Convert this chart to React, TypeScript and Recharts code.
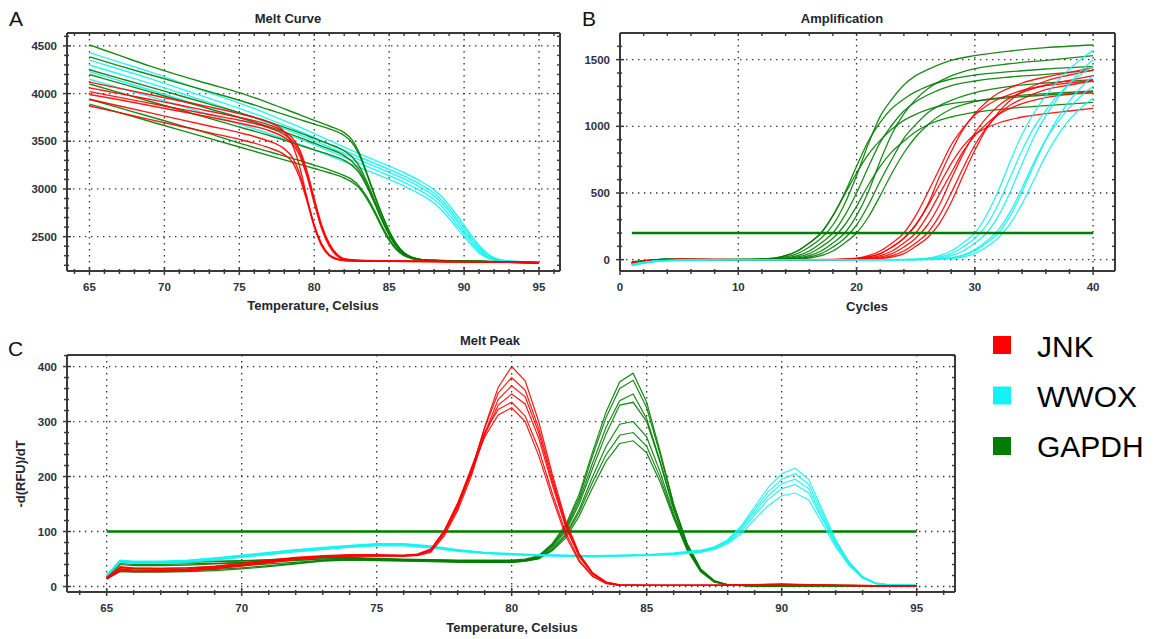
import React from "react";
import { LineChart, Line, XAxis, YAxis, CartesianGrid } from "recharts";

// colours
const RED = "#ff0000";
const CYAN = "#14f2f2";
const GREEN = "#007d00";
const FRAME = "#3a3a3a";
const FONT = "'Liberation Sans', Arial, sans-serif";

// legend
const genes = ["JNK", "WWOX", "GAPDH"];
const geneColors = [RED, CYAN, GREEN];

// ---------- A: Melt Curve (RFU vs temperature) ----------
const meltTempsJNK = [65, 67, 69, 71, 73, 75, 76, 77, 78, 78.5, 79, 79.5, 80, 80.5, 81, 81.5, 82, 83, 85, 88, 91, 95];
const meltJNK1 = [4120, 4055, 3990, 3925, 3860, 3790, 3750, 3700, 3600, 3480, 3250, 2920, 2620, 2420, 2310, 2270, 2255, 2248, 2244, 2240, 2236, 2228];
const meltJNK2 = [4060, 4000, 3940, 3880, 3815, 3750, 3715, 3670, 3600, 3540, 3420, 3200, 2900, 2620, 2430, 2320, 2270, 2252, 2246, 2242, 2238, 2230];
const meltJNK3 = [4020, 3960, 3900, 3840, 3780, 3720, 3685, 3640, 3570, 3510, 3390, 3170, 2880, 2600, 2420, 2310, 2265, 2250, 2245, 2241, 2237, 2229];
const meltJNK4 = [3990, 3935, 3875, 3815, 3755, 3690, 3655, 3610, 3540, 3480, 3360, 3140, 2850, 2580, 2400, 2300, 2260, 2248, 2243, 2240, 2236, 2228];
const meltJNK5 = [3940, 3870, 3800, 3730, 3660, 3590, 3550, 3500, 3420, 3340, 3170, 2900, 2620, 2420, 2310, 2265, 2250, 2245, 2242, 2238, 2234, 2226];
const meltJNK6 = [3870, 3800, 3730, 3660, 3590, 3520, 3480, 3430, 3360, 3290, 3130, 2880, 2600, 2400, 2300, 2262, 2250, 2244, 2241, 2238, 2234, 2226];

const meltTempsGAPDH = [65, 67, 69, 71, 73, 75, 77, 79, 80, 81, 82, 82.5, 83, 83.5, 84, 84.5, 85, 85.5, 86, 86.5, 87, 88, 91, 95];
const meltGAPDH1 = [4510, 4400, 4290, 4190, 4100, 4010, 3900, 3780, 3720, 3660, 3590, 3520, 3380, 3170, 2950, 2740, 2560, 2420, 2330, 2285, 2265, 2252, 2243, 2228];
const meltGAPDH2 = [4385, 4290, 4200, 4110, 4020, 3930, 3830, 3730, 3680, 3630, 3560, 3490, 3360, 3160, 2940, 2740, 2560, 2420, 2330, 2285, 2265, 2252, 2242, 2227];
const meltGAPDH3 = [4250, 4160, 4070, 3980, 3890, 3800, 3700, 3590, 3530, 3470, 3400, 3340, 3240, 3080, 2890, 2700, 2530, 2400, 2320, 2280, 2262, 2250, 2241, 2226];
const meltGAPDH4 = [4200, 4110, 4020, 3930, 3840, 3750, 3650, 3540, 3480, 3420, 3350, 3290, 3200, 3050, 2870, 2680, 2520, 2395, 2318, 2280, 2262, 2250, 2240, 2225];
const meltGAPDH5 = [3940, 3850, 3760, 3670, 3580, 3480, 3390, 3300, 3250, 3200, 3140, 3100, 3030, 2920, 2780, 2620, 2480, 2370, 2305, 2272, 2258, 2248, 2240, 2225];
const meltGAPDH6 = [3890, 3800, 3710, 3620, 3530, 3440, 3350, 3260, 3215, 3170, 3115, 3075, 3010, 2900, 2760, 2600, 2460, 2360, 2300, 2270, 2256, 2247, 2239, 2224];
const meltGAPDH7 = [4100, 4010, 3920, 3830, 3740, 3650, 3560, 3460, 3410, 3360, 3300, 3250, 3170, 3030, 2860, 2680, 2520, 2395, 2318, 2280, 2262, 2250, 2240, 2225];

const meltTempsWWOX = [65, 67, 69, 71, 73, 75, 77, 79, 81, 83, 85, 86, 87, 88, 88.5, 89, 89.5, 90, 90.5, 91, 91.5, 92, 92.5, 93, 94, 95];
const meltWWOX1 = [4430, 4330, 4230, 4120, 4010, 3900, 3780, 3650, 3510, 3370, 3240, 3170, 3090, 2990, 2920, 2830, 2730, 2620, 2510, 2410, 2330, 2280, 2255, 2245, 2238, 2232];
const meltWWOX2 = [4350, 4255, 4160, 4055, 3950, 3845, 3730, 3605, 3470, 3335, 3205, 3135, 3055, 2955, 2885, 2795, 2695, 2590, 2485, 2390, 2315, 2272, 2252, 2243, 2237, 2231];
const meltWWOX3 = [4300, 4205, 4110, 4010, 3905, 3800, 3690, 3570, 3440, 3305, 3175, 3105, 3025, 2925, 2855, 2765, 2665, 2560, 2460, 2370, 2300, 2265, 2250, 2242, 2236, 2230];
const meltWWOX4 = [4230, 4135, 4040, 3945, 3845, 3745, 3640, 3525, 3400, 3270, 3140, 3070, 2990, 2890, 2820, 2730, 2630, 2530, 2435, 2350, 2290, 2260, 2248, 2240, 2235, 2229];
const meltWWOX5 = [4150, 4060, 3970, 3875, 3780, 3680, 3580, 3470, 3350, 3225, 3100, 3030, 2950, 2850, 2780, 2690, 2595, 2500, 2410, 2330, 2280, 2255, 2245, 2238, 2234, 2228];

const meltXTicks = [65, 70, 75, 80, 85, 90, 95];
const meltYTicks = [2500, 3000, 3500, 4000, 4500];

// ---------- B: Amplification (RFU vs cycle) ----------
const cyclesGAPDH = [1, 4, 8, 11, 13, 14, 15, 16, 17, 18, 19, 20, 21, 22, 23, 24, 25, 26, 28, 30, 33, 36, 40];
const ampGAPDH1 = [-25, 2, 0, 2, 12, 30, 65, 125, 200, 330, 490, 650, 790, 895, 980, 1045, 1090, 1125, 1170, 1190, 1215, 1235, 1250];
const ampGAPDH2 = [-20, 3, 1, 2, 8, 20, 45, 95, 160, 260, 420, 630, 870, 1075, 1205, 1310, 1380, 1425, 1495, 1530, 1565, 1590, 1610];
const ampGAPDH3 = [-30, 0, 0, 1, 5, 12, 30, 65, 125, 200, 330, 500, 695, 880, 1010, 1115, 1185, 1235, 1305, 1340, 1370, 1390, 1420];
const ampGAPDH4 = [-15, 4, 2, 2, 3, 8, 20, 45, 95, 160, 260, 400, 560, 700, 810, 890, 960, 1010, 1070, 1105, 1135, 1155, 1180];
const ampGAPDH5 = [-25, 2, 0, 0, 2, 5, 12, 30, 65, 125, 200, 330, 510, 740, 945, 1093, 1202, 1280, 1378, 1432, 1470, 1495, 1530];
const ampGAPDH6 = [-35, 0, 0, 0, 1, 3, 8, 20, 45, 95, 160, 260, 410, 590, 755, 910, 1013, 1100, 1195, 1253, 1300, 1325, 1350];
const ampGAPDH7 = [-20, 3, 1, 2, 12, 30, 65, 125, 200, 330, 500, 700, 890, 1030, 1135, 1205, 1260, 1300, 1355, 1385, 1410, 1430, 1450];
const ampGAPDH8 = [-28, 1, 0, 0, 1, 2, 5, 12, 30, 65, 125, 200, 320, 480, 650, 800, 920, 1010, 1130, 1185, 1225, 1245, 1265];

const cyclesJNK = [1, 5, 10, 15, 18, 20, 21, 22, 23, 24, 25, 26, 27, 28, 29, 30, 31, 32, 33, 34, 36, 38, 40];
const ampJNK1 = [-30, 2, 0, 0, 2, 12, 30, 65, 125, 200, 330, 500, 680, 860, 985, 1085, 1155, 1205, 1240, 1270, 1305, 1325, 1345];
const ampJNK2 = [-20, 3, 1, 0, 1, 8, 20, 45, 95, 160, 260, 410, 620, 810, 975, 1095, 1185, 1250, 1290, 1325, 1370, 1405, 1440];
const ampJNK3 = [-25, 1, 0, 0, 0, 5, 12, 30, 65, 125, 200, 330, 490, 650, 810, 930, 1020, 1090, 1135, 1170, 1215, 1240, 1260];
const ampJNK4 = [-35, 0, 0, 0, 0, 3, 8, 20, 45, 95, 160, 260, 410, 605, 790, 950, 1065, 1155, 1215, 1255, 1310, 1345, 1380];
const ampJNK5 = [-20, 2, 0, 0, 0, 2, 5, 12, 30, 65, 125, 200, 330, 500, 685, 860, 990, 1090, 1160, 1205, 1275, 1310, 1340];
const ampJNK6 = [-30, 1, 0, 0, 1, 8, 20, 45, 95, 160, 260, 400, 560, 720, 850, 940, 990, 1025, 1050, 1070, 1095, 1115, 1135];
const ampJNK7 = [-25, 2, 0, 0, 0, 1, 3, 8, 20, 45, 100, 165, 270, 430, 630, 820, 985, 1105, 1195, 1260, 1340, 1385, 1420];

const cyclesWWOX = [1, 3, 5, 10, 15, 20, 24, 26, 27, 28, 29, 30, 31, 32, 33, 34, 35, 36, 37, 38, 39, 40];
const ampWWOX1 = [-45, -15, -5, 0, 0, 0, 2, 12, 30, 65, 125, 200, 335, 520, 740, 940, 1100, 1230, 1340, 1430, 1505, 1570];
const ampWWOX2 = [-40, -12, -4, 0, 0, 0, 1, 8, 20, 45, 95, 160, 260, 420, 620, 820, 990, 1120, 1230, 1320, 1390, 1450];
const ampWWOX3 = [-40, -12, -5, 0, 0, 0, 0, 5, 12, 30, 65, 125, 200, 330, 510, 720, 920, 1080, 1210, 1320, 1420, 1500];
const ampWWOX4 = [-35, -10, -3, 0, 0, 0, 0, 2, 6, 15, 35, 75, 140, 225, 360, 540, 730, 900, 1030, 1140, 1230, 1300];
const ampWWOX5 = [-35, -10, -3, 0, 0, 0, 0, 1, 3, 8, 20, 45, 95, 165, 270, 420, 600, 780, 930, 1050, 1140, 1210];
const ampWWOX6 = [-38, -11, -4, 0, 0, 0, 0, 2, 5, 12, 30, 65, 125, 200, 330, 510, 710, 900, 1060, 1190, 1295, 1380];

const ampThresholdCycles = [1, 40];
const ampThreshold = [200, 200];
const ampXTicks = [0, 10, 20, 30, 40];
const ampYTicks = [0, 500, 1000, 1500];

// ---------- C: Melt Peak (-dRFU/dT vs temperature) ----------
const peakTempsJNK = [65, 65.5, 66, 67, 68, 69, 70, 71, 72, 73, 74, 75, 76, 76.5, 77, 77.5, 78, 78.5, 79, 79.5, 80, 80.5, 81, 81.5, 82, 82.5, 83, 83.5, 84, 85, 88, 90, 92, 95];
const peakJNK1 = [15, 32, 30, 29, 31, 35, 40, 46, 51, 55, 56, 56, 56, 57, 64, 95, 142, 208, 290, 362, 400, 374, 300, 205, 120, 60, 25, 8, 3, 2, 2, 4, 2, 1];
const peakJNK2 = [17, 34, 32, 31, 32, 36, 41, 47, 52, 55, 57, 57, 56, 58, 66, 98, 145, 210, 288, 352, 380, 357, 288, 198, 115, 58, 24, 8, 3, 2, 2, 3, 2, 1];
const peakJNK3 = [14, 30, 28, 28, 29, 33, 38, 44, 50, 54, 55, 55, 55, 56, 62, 92, 138, 200, 278, 340, 365, 345, 280, 192, 112, 56, 23, 7, 2, 2, 2, 5, 2, 1];
const peakJNK4 = [16, 36, 34, 33, 34, 37, 42, 48, 53, 56, 58, 58, 57, 59, 68, 100, 148, 205, 275, 330, 350, 332, 270, 186, 108, 54, 22, 7, 2, 2, 2, 3, 2, 1];
const peakJNK5 = [13, 28, 27, 27, 28, 32, 37, 43, 49, 53, 55, 56, 55, 57, 66, 100, 150, 215, 280, 322, 335, 310, 250, 170, 98, 48, 19, 6, 2, 2, 2, 4, 2, 1];
const peakJNK6 = [15, 31, 30, 30, 31, 34, 39, 45, 50, 54, 56, 56, 56, 58, 67, 102, 152, 212, 272, 312, 325, 300, 238, 162, 92, 45, 18, 5, 2, 2, 2, 3, 2, 1];

const peakTempsGAPDH = [65, 65.5, 66, 67, 68, 69, 70, 71, 72, 73, 74, 75, 76, 77, 78, 79, 80, 80.5, 81, 81.5, 82, 82.5, 83, 83.5, 84, 84.5, 85, 85.5, 86, 86.5, 87, 87.5, 88, 89, 91, 95];
const peakGAPDH1 = [20, 47, 44, 44, 45, 46, 47, 49, 51, 53, 53, 51, 50, 49, 48, 48, 48, 50, 56, 78, 112, 168, 245, 318, 372, 388, 335, 245, 150, 78, 32, 11, 3, 1, 2, 1];
const peakGAPDH2 = [19, 45, 43, 43, 44, 45, 46, 48, 50, 52, 52, 50, 49, 48, 47, 47, 47, 49, 55, 76, 108, 162, 238, 308, 360, 375, 325, 240, 148, 77, 31, 10, 3, 1, 2, 1];
const peakGAPDH3 = [18, 42, 40, 40, 41, 42, 44, 46, 48, 50, 51, 49, 48, 47, 46, 46, 46, 48, 54, 74, 104, 156, 225, 290, 338, 350, 305, 228, 142, 74, 30, 10, 3, 1, 2, 1];
const peakGAPDH4 = [17, 40, 38, 38, 39, 41, 43, 45, 47, 50, 51, 50, 49, 48, 47, 46, 46, 48, 53, 72, 100, 150, 215, 278, 330, 335, 300, 225, 140, 73, 29, 9, 3, 1, 1, 1];
const peakGAPDH5 = [16, 35, 33, 33, 34, 36, 38, 41, 44, 48, 50, 49, 48, 47, 46, 45, 45, 47, 52, 69, 95, 140, 200, 255, 295, 300, 272, 208, 132, 70, 28, 9, 3, 1, 1, 1];
const peakGAPDH6 = [15, 30, 28, 28, 29, 31, 34, 38, 42, 47, 49, 48, 47, 46, 45, 44, 44, 46, 51, 67, 92, 135, 190, 240, 275, 280, 255, 198, 128, 68, 27, 9, 3, 1, 1, 1];
const peakGAPDH7 = [14, 27, 26, 26, 27, 29, 32, 36, 41, 46, 48, 47, 46, 45, 44, 44, 44, 46, 50, 65, 88, 128, 180, 228, 260, 265, 243, 190, 124, 66, 27, 8, 3, 1, 1, 1];

const peakTempsWWOX = [65, 65.5, 66, 67, 68, 69, 70, 71, 72, 73, 74, 75, 76, 77, 78, 79, 80, 81, 82, 83, 84, 85, 86, 87, 87.5, 88, 88.5, 89, 89.5, 90, 90.5, 91, 91.5, 92, 92.5, 93, 93.5, 94, 95];
const peakWWOX1 = [20, 48, 46, 46, 48, 52, 57, 62, 67, 71, 75, 78, 78, 74, 67, 62, 60, 58, 57, 56, 57, 58, 61, 66, 72, 85, 110, 145, 180, 205, 215, 195, 140, 85, 45, 18, 6, 3, 2];
const peakWWOX2 = [19, 46, 44, 44, 46, 50, 55, 60, 65, 69, 73, 76, 76, 72, 66, 61, 59, 57, 56, 55, 56, 57, 60, 65, 71, 83, 107, 140, 172, 195, 205, 186, 134, 82, 43, 17, 6, 3, 2];
const peakWWOX3 = [18, 44, 42, 42, 44, 48, 53, 58, 63, 67, 71, 74, 74, 70, 64, 60, 58, 56, 55, 55, 56, 57, 60, 64, 70, 82, 104, 135, 165, 187, 195, 178, 128, 79, 41, 16, 5, 3, 2];
const peakWWOX4 = [20, 47, 45, 45, 47, 51, 56, 61, 66, 70, 74, 77, 77, 73, 66, 61, 59, 57, 56, 55, 56, 57, 59, 63, 69, 80, 100, 130, 158, 178, 185, 170, 123, 76, 40, 16, 5, 3, 2];
const peakWWOX5 = [19, 45, 43, 43, 45, 49, 54, 59, 64, 68, 72, 75, 75, 71, 65, 60, 58, 56, 55, 54, 55, 56, 58, 62, 67, 78, 96, 122, 147, 165, 170, 158, 115, 72, 38, 15, 5, 3, 2];

const peakThresholdTemps = [65, 95];
const peakThreshold = [100, 100];
const peakXTicks = [65, 70, 75, 80, 85, 90, 95];
const peakYTicks = [0, 100, 200, 300, 400];

// helpers
type Series = { xs: number[]; ys: number[]; color: string };
const pts = (xs: number[], ys: number[]) => xs.map((x, i) => ({ x, y: ys[i] }));
const steps = (from: number, to: number, step: number) => {
  const out: number[] = [];
  for (let v = from; v <= to + 1e-9; v += step) out.push(Math.round(v * 100) / 100);
  return out;
};
const merge = (a: number[], b: number[]) => Array.from(new Set([...a, ...b])).sort((p, q) => p - q);
const group = (xs: number[], list: number[][], color: string): Series[] =>
  list.map((ys) => ({ xs, ys, color }));

const tickText = {
  fontFamily: FONT,
  fontSize: 11.5,
  fontWeight: 700,
  fill: "#2c3340",
};

// bottom axis: major ticks get a longer mark and a label
const makeXTick = (majors: number[]) => (p: any) => {
  const major = majors.includes(p.payload.value);
  return (
    <g>
      <line
        x1={p.x}
        x2={p.x}
        y1={p.y - (major ? 4 : 2)}
        y2={p.y + (major ? 4 : 3)}
        stroke={FRAME}
        strokeWidth={1.5}
      />
      {major ? (
        <text x={p.x} y={p.y + 16} textAnchor="middle" dominantBaseline="central" style={tickText}>
          {p.payload.value}
        </text>
      ) : null}
    </g>
  );
};
const makeYTick = (majors: number[]) => (p: any) => {
  const major = majors.includes(p.payload.value);
  return (
    <g>
      <line
        x1={p.x - (major ? 4 : 3)}
        x2={p.x + (major ? 4 : 2)}
        y1={p.y}
        y2={p.y}
        stroke={FRAME}
        strokeWidth={1.5}
      />
      {major ? (
        <text x={p.x - 10} y={p.y} textAnchor="end" dominantBaseline="central" style={tickText}>
          {p.payload.value}
        </text>
      ) : null}
    </g>
  );
};
const TopTick = (p: any) => (
  <line x1={p.x} x2={p.x} y1={p.y} y2={p.y + 3} stroke={FRAME} strokeWidth={1.4} />
);
const RightTick = (p: any) => (
  <line x1={p.x - 3} x2={p.x} y1={p.y} y2={p.y} stroke={FRAME} strokeWidth={1.4} />
);

type PanelProps = {
  left: number;
  top: number;
  width: number;
  height: number;
  margin: { top: number; right: number; bottom: number; left: number };
  xDomain: [number, number];
  yDomain: [number, number];
  xTicks: number[];
  yTicks: number[];
  xMinor: number[];
  yMinor: number[];
  topTicks: number[];
  series: Series[];
  curve: "monotone" | "linear";
  threshold?: { xs: number[]; ys: number[]; onTop: boolean };
  strokeWidth: number;
};

function Panel(props: PanelProps) {
  const { threshold } = props;
  const thr = threshold ? (
    <Line
      key="thr"
      data={pts(threshold.xs, threshold.ys)}
      dataKey="y"
      type="linear"
      stroke={GREEN}
      strokeWidth={2.4}
      dot={false}
      activeDot={false}
      isAnimationActive={false}
    />
  ) : null;
  const frame = { stroke: FRAME, strokeWidth: 2 };
  return (
    <div style={{ position: "absolute", left: props.left, top: props.top }}>
      <LineChart width={props.width} height={props.height} margin={props.margin}>
        <CartesianGrid
          stroke="#333"
          strokeWidth={1.3}
          strokeDasharray="1.4 4.6"
          verticalValues={props.xTicks}
          horizontalValues={props.yTicks}
        />
        <XAxis
          type="number"
          dataKey="x"
          domain={props.xDomain}
          allowDataOverflow
          ticks={merge(props.xTicks, props.xMinor)}
          interval={0}
          height={1}
          tickSize={0}
          tickMargin={0}
          tickLine={false}
          axisLine={frame}
          tick={makeXTick(props.xTicks)}
        />
        <XAxis
          xAxisId="top"
          orientation="top"
          type="number"
          dataKey="x"
          domain={props.xDomain}
          allowDataOverflow
          ticks={props.topTicks}
          interval={0}
          height={1}
          tickSize={0}
          tickMargin={0}
          tickLine={false}
          axisLine={frame}
          tick={TopTick}
        />
        <YAxis
          type="number"
          domain={props.yDomain}
          allowDataOverflow
          ticks={merge(props.yTicks, props.yMinor)}
          interval={0}
          width={1}
          tickSize={0}
          tickMargin={0}
          tickLine={false}
          axisLine={frame}
          tick={makeYTick(props.yTicks)}
        />
        <YAxis
          yAxisId="right"
          orientation="right"
          type="number"
          domain={props.yDomain}
          allowDataOverflow
          ticks={props.yMinor}
          interval={0}
          width={1}
          tickSize={0}
          tickMargin={0}
          tickLine={false}
          axisLine={frame}
          tick={RightTick}
        />
        {threshold && !threshold.onTop ? thr : null}
        {props.series.map((s, i) => (
          <Line
            key={"s" + i}
            data={pts(s.xs, s.ys)}
            dataKey="y"
            type={props.curve}
            stroke={s.color}
            strokeWidth={props.strokeWidth}
            strokeOpacity={0.9}
            dot={false}
            activeDot={false}
            isAnimationActive={false}
          />
        ))}
        {threshold && threshold.onTop ? thr : null}
      </LineChart>
    </div>
  );
}

const meltSeries: Series[] = [
  ...group(meltTempsWWOX, [meltWWOX1, meltWWOX2, meltWWOX3, meltWWOX4, meltWWOX5], CYAN),
  ...group(meltTempsGAPDH, [meltGAPDH1, meltGAPDH2, meltGAPDH3, meltGAPDH4, meltGAPDH5, meltGAPDH6, meltGAPDH7], GREEN),
  ...group(meltTempsJNK, [meltJNK1, meltJNK2, meltJNK3, meltJNK4, meltJNK5, meltJNK6], RED),
];

const ampSeries: Series[] = [
  ...group(cyclesGAPDH, [ampGAPDH1, ampGAPDH2, ampGAPDH3, ampGAPDH4, ampGAPDH5, ampGAPDH6, ampGAPDH7, ampGAPDH8], GREEN),
  ...group(cyclesJNK, [ampJNK1, ampJNK2, ampJNK3, ampJNK4, ampJNK5, ampJNK6, ampJNK7], RED),
  ...group(cyclesWWOX, [ampWWOX1, ampWWOX2, ampWWOX3, ampWWOX4, ampWWOX5, ampWWOX6], CYAN),
];

const peakSeries: Series[] = [
  ...group(peakTempsGAPDH, [peakGAPDH1, peakGAPDH2, peakGAPDH3, peakGAPDH4, peakGAPDH5, peakGAPDH6, peakGAPDH7], GREEN),
  ...group(peakTempsWWOX, [peakWWOX1, peakWWOX2, peakWWOX3, peakWWOX4, peakWWOX5], CYAN),
  ...group(peakTempsJNK, [peakJNK1, peakJNK2, peakJNK3, peakJNK4, peakJNK5, peakJNK6], RED),
];

const titleStyle = { fontFamily: FONT, fontSize: 13, fontWeight: 700, fill: "#23262e" };
const letterStyle = { fontFamily: FONT, fontSize: 21, fill: "#111" };

export default function App() {
  return (
    <div style={{ position: "absolute", left: 0, top: 0, width: 1156, height: 639, background: "#fff" }}>
      <Panel
        left={0}
        top={0}
        width={580}
        height={320}
        margin={{ top: 32, right: 19, bottom: 48, left: 66 }}
        xDomain={[63.5, 96.4]}
        yDomain={[2140, 4635]}
        xTicks={meltXTicks}
        yTicks={meltYTicks}
        xMinor={steps(64, 96, 1)}
        yMinor={steps(2200, 4600, 100)}
        topTicks={steps(64, 96, 1)}
        series={meltSeries}
        curve="monotone"
        strokeWidth={1.4}
      />
      <Panel
        left={570}
        top={0}
        width={580}
        height={320}
        margin={{ top: 32, right: 34, bottom: 48, left: 49 }}
        xDomain={[0, 41.85]}
        yDomain={[-85, 1700]}
        xTicks={ampXTicks}
        yTicks={ampYTicks}
        xMinor={steps(0, 40, 2)}
        yMinor={steps(0, 1600, 100)}
        topTicks={steps(0, 40, 2)}
        series={ampSeries}
        curve="monotone"
        strokeWidth={1.3}
        threshold={{ xs: ampThresholdCycles, ys: ampThreshold, onTop: true }}
      />
      <Panel
        left={0}
        top={330}
        width={980}
        height={309}
        margin={{ top: 24, right: 24, bottom: 46, left: 66 }}
        xDomain={[63.53, 96.42]}
        yDomain={[-10, 421]}
        xTicks={peakXTicks}
        yTicks={peakYTicks}
        xMinor={steps(64, 96, 1)}
        yMinor={steps(0, 420, 20)}
        topTicks={[]}
        series={peakSeries}
        curve="linear"
        strokeWidth={1.2}
        threshold={{ xs: peakThresholdTemps, ys: peakThreshold, onTop: false }}
      />
      <svg
        width={1156}
        height={639}
        style={{ position: "absolute", left: 0, top: 0, pointerEvents: "none" }}
      >
        <text x={9} y={18} dominantBaseline="central" style={letterStyle}>A</text>
        <text x={582} y={18} dominantBaseline="central" style={letterStyle}>B</text>
        <text x={8} y={348} dominantBaseline="central" style={letterStyle}>C</text>

        <text x={288} y={18} textAnchor="middle" dominantBaseline="central" style={titleStyle}>Melt Curve</text>
        <text x={842} y={18} textAnchor="middle" dominantBaseline="central" style={titleStyle}>Amplification</text>
        <text x={490} y={340} textAnchor="middle" dominantBaseline="central" style={titleStyle}>Melt Peak</text>

        <text x={313} y={305} textAnchor="middle" dominantBaseline="central" style={titleStyle}>Temperature, Celsius</text>
        <text x={867} y={306} textAnchor="middle" dominantBaseline="central" style={titleStyle}>Cycles</text>
        <text x={512} y={627} textAnchor="middle" dominantBaseline="central" style={titleStyle}>Temperature, Celsius</text>
        <text
          x={20}
          y={474}
          textAnchor="middle"
          dominantBaseline="central"
          transform="rotate(-90 20 474)"
          style={titleStyle}
        >
          -d(RFU)/dT
        </text>

        {genes.map((g, i) => (
          <g key={g}>
            <rect x={993} y={336 + i * 50.5} width={18} height={18} fill={geneColors[i]} />
            <text
              x={1037}
              y={346 + i * 50}
              dominantBaseline="central"
              style={{ fontFamily: FONT, fontSize: 30, fill: "#000" }}
            >
              {g}
            </text>
          </g>
        ))}
      </svg>
    </div>
  );
}
